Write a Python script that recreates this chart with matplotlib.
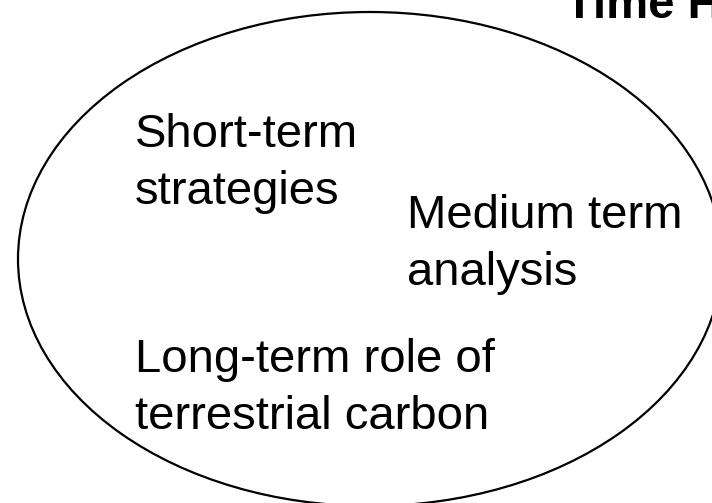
import matplotlib
matplotlib.use("Agg")
import matplotlib.pyplot as plt
from matplotlib.patches import Ellipse

W, H = 712, 503
title = "Time Horizon"
labels = ["Short-term\nstrategies", "Medium term\nanalysis", "Long-term role of\nterrestrial carbon"]
label_x = [135, 407, 135]
label_y = [147, 228, 372]

fig = plt.figure(figsize=(W / 100, H / 100), dpi=100)
ax = fig.add_axes([0, 0, 1, 1])
ax.set_xlim(0, W)
ax.set_ylim(H, 0)
ax.axis("off")

ax.add_patch(Ellipse((370, 259), 704, 494, fill=False, edgecolor="black", lw=1.6))

for t, x, y in zip(labels, label_x, label_y):
    lines = t.split("\n")
    for i, ln in enumerate(lines):
        ax.text(x, y + i * 57, ln, fontsize=34, family="Liberation Sans",
                ha="left", va="baseline", color="black")

ax.text(565, 18, title, fontsize=34, family="Liberation Sans", fontweight="bold",
        ha="left", va="baseline", color="black", clip_on=False)

fig.savefig("out.png", dpi=100)
